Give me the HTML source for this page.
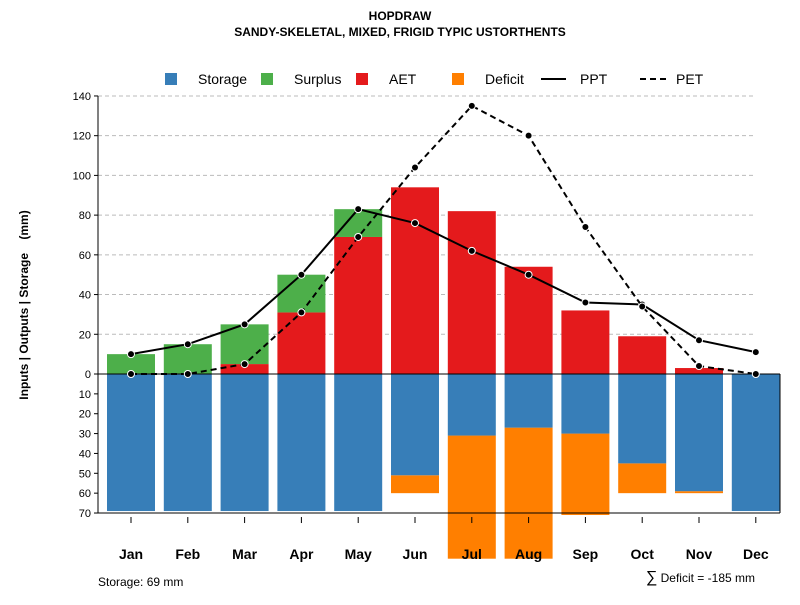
<!DOCTYPE html>
<html><head><meta charset="utf-8"><style>
body{margin:0;background:#fff;font-family:"Liberation Sans",Arial,sans-serif}
svg text{font-family:"Liberation Sans",Arial,sans-serif}
</style></head><body>
<svg id="c" width="800" height="600" xmlns="http://www.w3.org/2000/svg">
<text x="400" y="20" text-anchor="middle" font-size="12" font-weight="bold">HOPDRAW</text>
<text x="400" y="36" text-anchor="middle" font-size="12" font-weight="bold">SANDY-SKELETAL, MIXED, FRIGID TYPIC USTORTHENTS</text>
<g id="grid"></g><g id="bars"></g><g id="lines"></g><g id="axes"></g>
<g font-size="14">
<rect x="165" y="73" width="12" height="12" fill="#377eb8"/><text x="198" y="84">Storage</text>
<rect x="261" y="73" width="12" height="12" fill="#4daf4a"/><text x="294" y="84">Surplus</text>
<rect x="356" y="73" width="12" height="12" fill="#e41a1c"/><text x="389" y="84">AET</text>
<rect x="452" y="73" width="12" height="12" fill="#ff7f00"/><text x="485" y="84">Deficit</text>
<line x1="541" y1="79" x2="566" y2="79" stroke="#000" stroke-width="2"/><text x="580" y="84">PPT</text>
<line x1="640" y1="79" x2="666" y2="79" stroke="#000" stroke-width="2" stroke-dasharray="6,4"/><text x="676" y="84">PET</text>
</g>
<text transform="translate(28,305) rotate(-90)" text-anchor="middle" font-size="12" font-weight="bold">Inputs | Outputs | Storage&#160;&#160;&#160;&#160;(mm)</text>
<text x="98" y="586" font-size="12">Storage: 69 mm</text>
<text x="755" y="582" text-anchor="end" font-size="12"><tspan font-size="16">∑</tspan> Deficit = -185 mm</text>
</svg>
<script>
const months=["Jan","Feb","Mar","Apr","May","Jun","Jul","Aug","Sep","Oct","Nov","Dec"];
const aet=[0,0,5,31,69,94,82,54,32,19,3,0];
const surplus=[10,15,20,19,14,0,0,0,0,0,0,0];
const storage=[69,69,69,69,69,51,31,27,30,45,59,69];
const deficit=[0,0,0,0,0,9,62,66,41,15,1,0];
const ppt=[10,15,25,50,83,76,62,50,36,35,17,11];
const pet=[0,0,5,31,69,104,135,120,74,34,4,0];
const posTicks=[0,20,40,60,80,100,120,140];
const negTicks=[10,20,30,40,50,60,70];
const NS="http://www.w3.org/2000/svg";
const y0=374,k=1.986;
const yU=v=>y0-v*k, yD=v=>y0+v*k;
const xM=i=>131+i*56.8;
const bw=48;
function mk(p,t,a){const e=document.createElementNS(NS,t);for(const n in a)e.setAttribute(n,a[n]);document.getElementById(p).appendChild(e);return e;}
posTicks.forEach(t=>{
  if(t>0){const g=mk('grid','line',{x1:98,x2:756,y1:yU(t),y2:yU(t),stroke:'#bbb','stroke-dasharray':'4,3'});
  
  }
  const l=mk('axes','text',{x:91,y:yU(t)+4,'text-anchor':'end','font-size':11});l.textContent=t;
  
  
  mk('axes','line',{x1:94,x2:98,y1:yU(t),y2:yU(t),stroke:'#000'});
});
negTicks.forEach(t=>{
  const l=mk('axes','text',{x:91,y:yD(t)+4,'text-anchor':'end','font-size':11});l.textContent=t;
  
  
  mk('axes','line',{x1:94,x2:98,y1:yD(t),y2:yD(t),stroke:'#000'});
});
mk('axes','line',{x1:98,x2:98,y1:yU(140),y2:yD(70),stroke:'#000'});
months.forEach((m,i)=>{
  const x=xM(i)-bw/2;
  let r;
  r=mk('bars','rect',{x:x,y:yD(storage[i]),width:bw,height:deficit[i]*k,fill:'#ff7f00'});
  
  
  r=mk('bars','rect',{x:x,y:y0,width:bw,height:storage[i]*k,fill:'#377eb8'});
  
  
  r=mk('bars','rect',{x:x,y:yU(aet[i]),width:bw,height:aet[i]*k,fill:'#e41a1c'});
  
  
  r=mk('bars','rect',{x:x,y:yU(aet[i]+surplus[i]),width:bw,height:surplus[i]*k,fill:'#4daf4a'});
  
  
  mk('axes','line',{x1:xM(i),x2:xM(i),y1:yD(70)+4,y2:yD(70)+10,stroke:'#000'});
  const l=mk('axes','text',{x:xM(i),y:559,'text-anchor':'middle','font-size':14,'font-weight':'bold'});l.textContent=m;
  
  
});
mk('bars','line',{x1:98,x2:780,y1:y0,y2:y0,stroke:'#000'});
mk('bars','line',{x1:98,x2:780,y1:yD(70),y2:yD(70),stroke:'#000'});
mk('bars','line',{x1:780,x2:780,y1:y0,y2:yD(70),stroke:'#000'});
[[ppt,'',"ppt"],[pet,'6,4',"pet"]].forEach(([s,d,n])=>{
  const pl=mk('lines','polyline',{points:s.map((v,i)=>xM(i)+','+yU(v)).join(' '),fill:'none',stroke:'#000','stroke-width':2,'stroke-dasharray':d});
  
  
  s.forEach((v,i)=>{const c=mk('lines','circle',{cx:xM(i),cy:yU(v),r:3.5,fill:'#000',stroke:'#fff','stroke-width':1});
    
    });
});
</script>
</body></html>
